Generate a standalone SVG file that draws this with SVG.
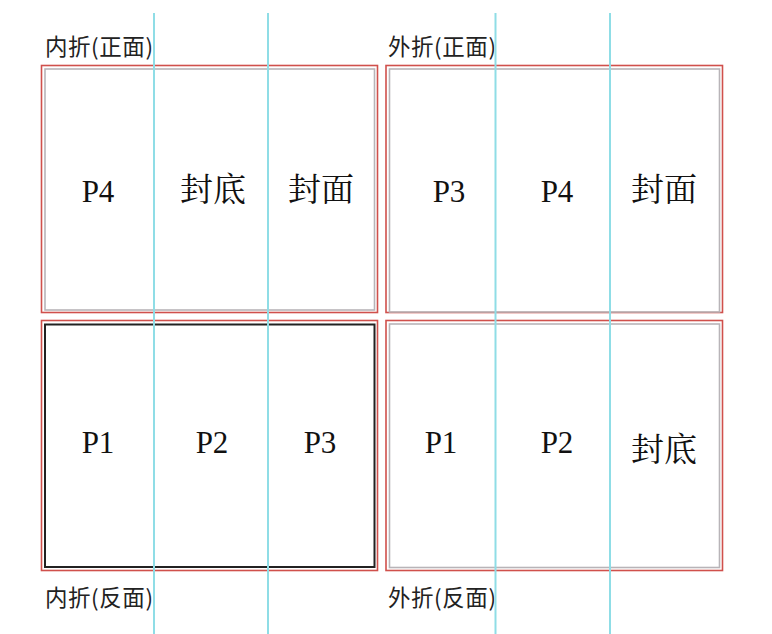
<svg xmlns="http://www.w3.org/2000/svg" width="772" height="634" viewBox="0 0 772 634">
<style>
.outer{fill:none;stroke:#d0504c;stroke-width:1.6}
.inner{fill:none;stroke:#b8b4b8;stroke-width:1.6}
.innerd{fill:none;stroke:#222;stroke-width:2}
.guide{stroke:#8fdde6;stroke-width:2}
.lbl{font-family:"Noto Sans CJK SC","Noto Sans",sans-serif;font-size:22.5px;fill:#222}
.pg{font-family:"Liberation Serif","Noto Sans CJK SC",serif;font-size:31px;fill:#111;text-anchor:middle}
.cj{font-family:"Noto Serif CJK SC","Liberation Serif","Noto Sans CJK SC",serif;font-size:33px;fill:#111;text-anchor:middle}
</style>
<rect width="772" height="634" fill="#fff"/>
<g id="panel-inner-front">
<rect class="outer" x="41.5" y="65.5" width="336" height="247"/>
<rect class="inner" x="45" y="69" width="329.5" height="241"/>
<text class="lbl" x="45" y="55" textLength="108" lengthAdjust="spacing">内折(正面)</text>
<text class="pg" x="98" y="202">P4</text>
<text class="cj" x="213" y="201">封底</text>
<text class="cj" x="321" y="201">封面</text>
</g>
<g id="panel-inner-back">
<rect class="outer" x="41.5" y="320.5" width="336" height="250"/>
<rect class="innerd" x="45" y="324.5" width="329.5" height="242.5"/>
<text class="lbl" x="45" y="606" textLength="108" lengthAdjust="spacing">内折(反面)</text>
<text class="pg" x="98" y="453">P1</text>
<text class="pg" x="212" y="453">P2</text>
<text class="pg" x="320" y="453">P3</text>
</g>
<g id="panel-outer-front">
<rect class="outer" x="386" y="65.5" width="336.5" height="247"/>
<rect class="inner" x="389.5" y="69" width="330" height="243"/>
<text class="lbl" x="388" y="55" textLength="108" lengthAdjust="spacing">外折(正面)</text>
<text class="pg" x="449" y="202">P3</text>
<text class="pg" x="557" y="202">P4</text>
<text class="cj" x="664" y="201">封面</text>
</g>
<g id="panel-outer-back">
<rect class="outer" x="386" y="320.5" width="336.5" height="250"/>
<rect class="inner" x="389.5" y="324" width="330" height="243.5"/>
<text class="lbl" x="388" y="606" textLength="108" lengthAdjust="spacing">外折(反面)</text>
<text class="pg" x="441" y="453">P1</text>
<text class="pg" x="557" y="453">P2</text>
<text class="cj" x="664" y="461">封底</text>
</g>
<g id="connectors">
<line class="guide" x1="154" y1="13" x2="154" y2="634"/>
<line class="guide" x1="268" y1="13" x2="268" y2="634"/>
<line class="guide" x1="495.5" y1="13" x2="495.5" y2="634"/>
<line class="guide" x1="610" y1="13" x2="610" y2="634"/>
</g>
</svg>
